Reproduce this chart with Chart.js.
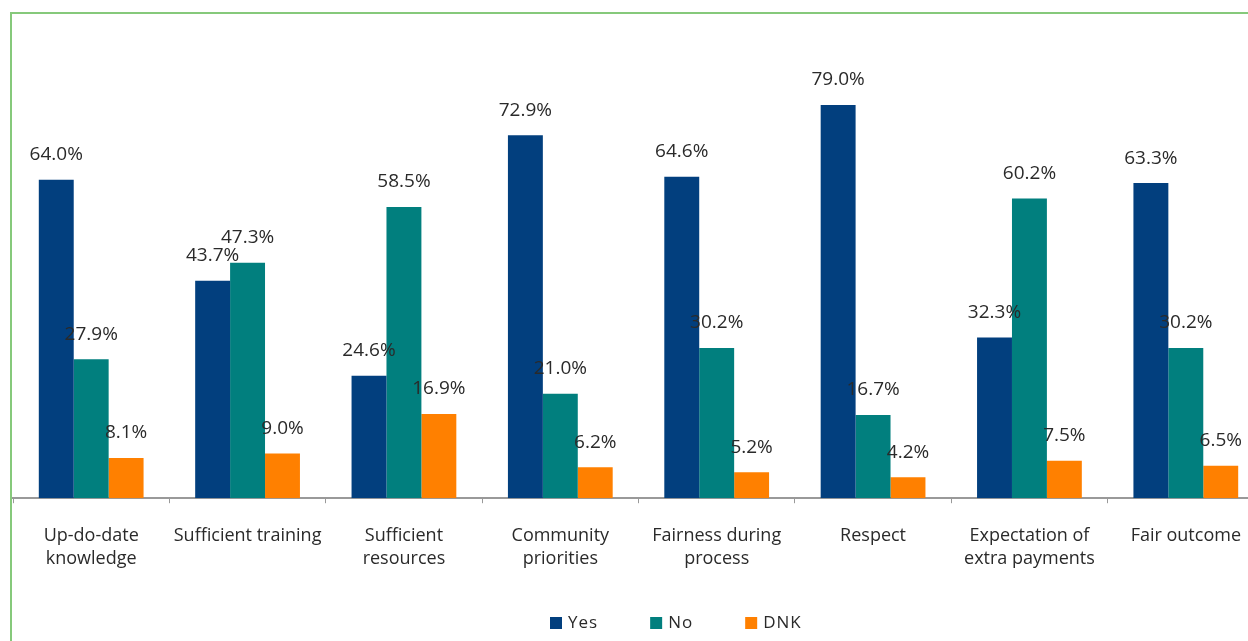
<!DOCTYPE html>
<html>
<head>
<meta charset="utf-8">
<script src="https://cdn.jsdelivr.net/npm/chart.js@4/dist/chart.umd.min.js"></script>
<style>
  html, body { margin: 0; padding: 0; background: #ffffff; overflow: hidden; }
  #wrap { position: relative; width: 1248px; height: 641px; overflow: hidden; }
  #frame { position: absolute; left: 10px; top: 12px; width: 1400px; height: 700px;
           border-left: 2px solid #86c97b; border-top: 2px solid #86c97b; box-sizing: border-box; }
  #chart { position: absolute; left: 0; top: 0; }
</style>
</head>
<body>
<div id="wrap">
  <div id="frame"></div>
  <canvas id="chart" width="1264" height="641"></canvas>
</div>
<script>
// Survey responses per topic (percent)
const categories = [
  ['Up-do-date', 'knowledge'],
  'Sufficient training',
  ['Sufficient', 'resources'],
  ['Community', 'priorities'],
  ['Fairness during', 'process'],
  'Respect',
  ['Expectation of', 'extra payments'],
  'Fair outcome'
];
const seriesNames = ['Yes', 'No', 'DNK'];
const yesValues = [64.0, 43.7, 24.6, 72.9, 64.6, 79.0, 32.3, 63.3];
const noValues  = [27.9, 47.3, 58.5, 21.0, 30.2, 16.7, 60.2, 30.2];
const dnkValues = [8.1, 9.0, 16.9, 6.2, 5.2, 4.2, 7.5, 6.5];
const seriesColors = ['#023f7e', '#017f7e', '#ff8000'];

const FONT = '"Open Sans", "Liberation Sans", sans-serif';
const TEXT_COLOR = '#2a2a2a';

// Percentage labels above every bar
const valueLabels = {
  id: 'valueLabels',
  afterDatasetsDraw(chart) {
    const ctx = chart.ctx;
    ctx.save();
    ctx.font = '19px ' + FONT;
    ctx.fillStyle = TEXT_COLOR;
    ctx.textAlign = 'center';
    ctx.textBaseline = 'middle';
    chart.data.datasets.forEach((ds, i) => {
      chart.getDatasetMeta(i).data.forEach((bar, j) => {
        ctx.fillText(ds.data[j].toFixed(1) + '%', bar.x, bar.y - 25);
      });
    });
    ctx.restore();
  }
};

// Legend row below the category labels
const legendRow = {
  id: 'legendRow',
  afterDraw(chart) {
    const ctx = chart.ctx;
    const box = 12, gapText = 6, gapItem = 52;
    const cy = 623;
    let x = 550;
    ctx.save();
    ctx.font = '17px ' + FONT;
    if ('letterSpacing' in ctx) ctx.letterSpacing = '1px';
    ctx.textBaseline = 'middle';
    ctx.textAlign = 'left';
    chart.data.datasets.forEach(ds => {
      ctx.fillStyle = ds.backgroundColor;
      ctx.fillRect(x, cy - box / 2, box, box);
      ctx.fillStyle = TEXT_COLOR;
      const tx = x + box + gapText;
      ctx.fillText(ds.label, tx, cy);
      x = tx + ctx.measureText(ds.label).width + gapItem;
    });
    ctx.restore();
  }
};

new Chart(document.getElementById('chart'), {
  type: 'bar',
  data: {
    labels: categories,
    datasets: [
      { label: seriesNames[0], data: yesValues, backgroundColor: seriesColors[0] },
      { label: seriesNames[1], data: noValues,  backgroundColor: seriesColors[1] },
      { label: seriesNames[2], data: dnkValues, backgroundColor: seriesColors[2] }
    ]
  },
  options: {
    responsive: false,
    animation: false,
    devicePixelRatio: 1,
    layout: { padding: { left: 13, right: 0, top: 100, bottom: 49 } },
    datasets: { bar: { categoryPercentage: 0.67, barPercentage: 1.0 } },
    plugins: {
      legend: { display: false },
      tooltip: { enabled: false }
    },
    scales: {
      x: {
        grid: { display: true, drawOnChartArea: false, drawTicks: true, tickLength: 5, color: '#999999', offset: true },
        border: { display: true, color: '#999999', width: 2 },
        ticks: { color: TEXT_COLOR, font: { family: FONT, size: 18, lineHeight: 1.3 }, padding: 21, maxRotation: 0, autoSkip: false }
      },
      y: {
        display: false,
        min: 0,
        max: 80
      }
    }
  },
  plugins: [valueLabels, legendRow]
});
</script>
</body>
</html>
